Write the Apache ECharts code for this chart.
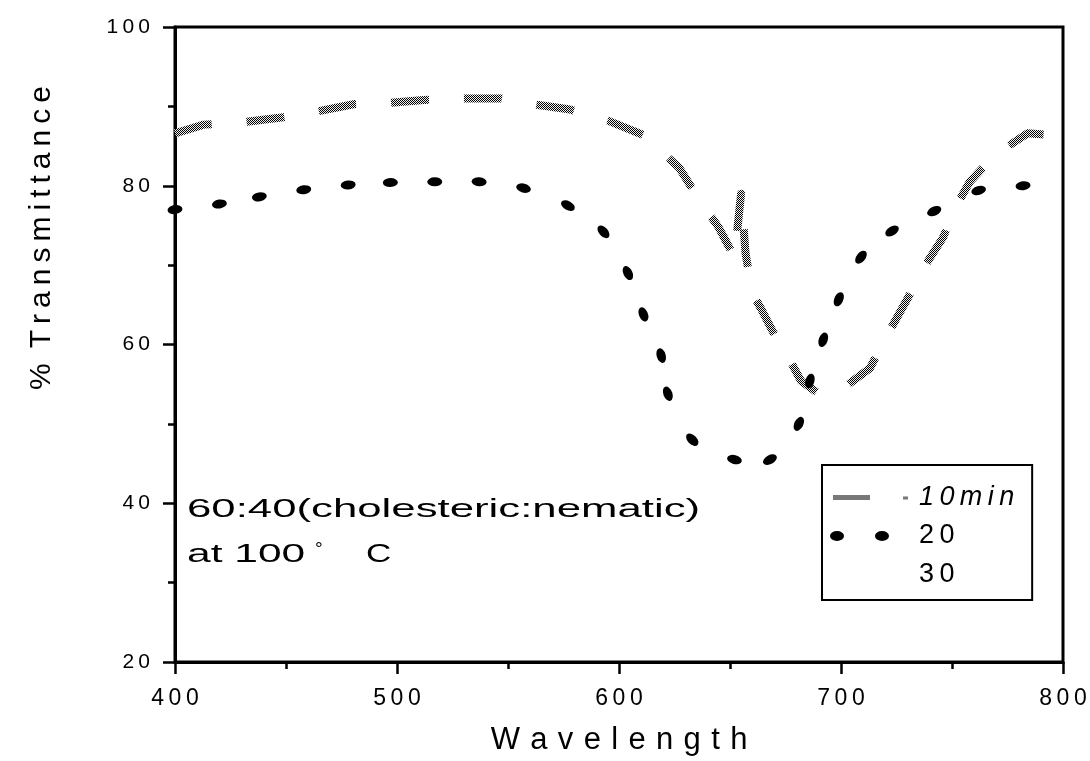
<!DOCTYPE html>
<html>
<head>
<meta charset="utf-8">
<title>% Transmittance vs Wavelength</title>
<script src="https://cdn.jsdelivr.net/npm/echarts@6/dist/echarts.min.js"></script>
<style>
  html, body { margin: 0; padding: 0; background: #fff; }
  #chart { width: 1090px; height: 761px; }
</style>
</head>
<body>
<div id="chart"></div>
<script>
// 10 min curve: wavelength (nm) / % transmittance
const wl10 = [400, 413, 430, 448, 463, 481, 495, 512, 530, 547, 563, 578, 595, 611, 627, 636, 645, 652, 655, 657, 660,
  664, 671, 677, 682, 690, 701, 713, 720, 730, 738, 746, 752, 758, 764, 770, 784, 794, 800];
const tr10 = [86.6, 87.7, 88.0, 88.6, 89.3, 90.3, 90.4, 90.8, 91.0, 91.0, 90.2, 89.6, 88.2, 86.4, 82.3, 78.3, 74.7, 71.0, 79.0, 71.5, 66.5,
  64.5, 60.7, 58.0, 55.4, 53.8, 54.5, 57.0, 60.8, 65.8, 70.0, 73.5, 77.5, 80.5, 82.3, 84.0, 86.6, 86.4, 88.5];

// 20 min curve
const wl20 = [400, 420, 438, 458, 478, 497, 517, 537, 557, 577, 593, 604, 611, 619, 622, 633, 652, 668, 681, 686, 692, 699, 709, 723, 742, 762, 782];
const tr20 = [77.0, 77.7, 78.6, 79.5, 80.1, 80.4, 80.5, 80.5, 79.7, 77.5, 74.2, 69.0, 63.8, 58.6, 53.8, 48.0, 45.5, 45.5, 50.0, 55.4, 60.6, 65.7, 71.0, 74.3, 76.8, 79.4, 80.0];

// 30 min: nothing visible in the scan
const wl30 = [];
const tr30 = [];

const seriesNames = ['10min', '20', '30'];
const xRange = [400, 800];
const yRange = [20, 100];

const FONT = '"Liberation Sans", Arial, Helvetica, sans-serif';
function spread(s, gap) {
  return String(s).split('').join(gap || '\u2009');
}

// halftone look of the grey curve
const tex = document.createElement('canvas');
tex.width = 2;
tex.height = 2;
const tctx = tex.getContext('2d');
tctx.fillStyle = '#f0f0f0';
tctx.fillRect(0, 0, 2, 2);
tctx.fillStyle = '#000';
tctx.fillRect(0, 0, 1, 1);
tctx.fillRect(1, 1, 1, 1);
const greyTex = { image: tex, repeat: 'repeat' };

const dotPath = 'path://M0,4.5A7.5,4.5,0,1,0,15,4.5A7.5,4.5,0,1,0,0,4.5Z';
const icon10 = 'path://M0,0M84,14M3,4.5L40,4.5L40,9.5L3,9.5Z M73,6L78,6L78,9L73,9Z';
const icon20 = 'path://M0,0M84,14M0,7A7,5,0,1,0,14,7A7,5,0,1,0,0,7Z M45,7A7,5,0,1,0,59,7A7,5,0,1,0,45,7Z';

const tickStyle = { color: '#000', width: 2.5 };

const option = {
  animation: false,
  backgroundColor: '#fff',
  grid: {
    left: 175, right: 27, top: 27, bottom: 97,
    containLabel: false,
    show: true,
    borderColor: '#000',
    borderWidth: 3
  },
  xAxis: {
    type: 'value',
    min: xRange[0],
    max: xRange[1],
    interval: 100,
    axisLine: { show: true, lineStyle: { color: '#000', width: 3 } },
    axisTick: { show: true, length: 12, lineStyle: tickStyle },
    minorTick: { show: true, splitNumber: 2, length: 7, lineStyle: tickStyle },
    splitLine: { show: false },
    axisLabel: {
      margin: 25,
      fontSize: 23,
      fontFamily: FONT,
      color: '#000',
      formatter: v => spread(v)
    },
    name: spread('Wavelength', '\u2004'),
    nameLocation: 'middle',
    nameGap: 63,
    nameTextStyle: { fontSize: 31, fontFamily: FONT, color: '#000' }
  },
  yAxis: {
    type: 'value',
    min: yRange[0],
    max: yRange[1],
    interval: 20,
    axisLine: { show: true, lineStyle: { color: '#000', width: 3 } },
    axisTick: { show: true, length: 12, lineStyle: tickStyle },
    minorTick: { show: true, splitNumber: 2, length: 7, lineStyle: tickStyle },
    splitLine: { show: false },
    axisLabel: {
      margin: 25,
      fontSize: 21,
      fontFamily: FONT,
      color: '#000',
      formatter: v => spread(v)
    }
  },
  legend: {
    orient: 'vertical',
    left: 822,
    top: 465,
    padding: [19, 18, 12, 8],
    itemWidth: 84,
    itemHeight: 14,
    itemGap: 11.5,
    borderColor: '#000',
    borderWidth: 2,
    selectedMode: false,
    textStyle: {
      fontFamily: FONT,
      fontSize: 27,
      lineHeight: 27,
      color: '#000',
      rich: { i: { fontFamily: FONT, fontSize: 27, fontStyle: 'italic', color: '#000' } }
    },
    formatter: name => name === '10min' ? '{i|' + spread(name) + '}' : spread(name),
    data: [
      { name: seriesNames[0], icon: icon10, itemStyle: { color: greyTex } },
      { name: seriesNames[1], icon: icon20, itemStyle: { color: '#000' } },
      { name: seriesNames[2], icon: 'none' }
    ]
  },
  graphic: [
    {
      type: 'text', x: 42, y: 238, rotation: Math.PI / 2,
      style: {
        text: '%\u2002' + spread('Transmittance'),
        font: '30px ' + FONT, fill: '#000',
        align: 'center', textAlign: 'center', verticalAlign: 'middle', textVerticalAlign: 'middle'
      }
    },
    {
      type: 'text', x: 187, y: 510, scaleX: 1.75,
      style: {
        text: '60:40(cholesteric:nematic)', font: '25px ' + FONT, fill: '#000',
        verticalAlign: 'middle', textVerticalAlign: 'middle'
      }
    },
    {
      type: 'text', x: 187, y: 555, scaleX: 1.7,
      style: { text: 'at 100', font: '25px ' + FONT, fill: '#000', verticalAlign: 'middle', textVerticalAlign: 'middle' }
    },
    {
      type: 'text', x: 315, y: 550, scaleX: 1.2,
      style: { text: '°', font: '16px ' + FONT, fill: '#000', verticalAlign: 'middle', textVerticalAlign: 'middle' }
    },
    {
      type: 'text', x: 366, y: 555, scaleX: 1.4,
      style: { text: 'C', font: '25px ' + FONT, fill: '#000', verticalAlign: 'middle', textVerticalAlign: 'middle' }
    }
  ],
  series: [
    {
      name: seriesNames[0],
      type: 'line',
      data: wl10.map((x, i) => [x, tr10[i]]),
      symbol: 'none',
      showSymbol: false,
      silent: true,
      emphasis: { disabled: true },
      itemStyle: { color: '#808080' },
      lineStyle: { color: greyTex, width: 8, type: [38, 35], cap: 'butt', join: 'round' },
      z: 2
    },
    {
      name: seriesNames[1],
      type: 'scatter',
      data: wl20.map((x, i) => [x, tr20[i]]),
      symbol: dotPath,
      symbolSize: [15, 9],
      silent: true,
      emphasis: { disabled: true },
      itemStyle: { color: '#000', opacity: 1 },
      z: 3
    },
    {
      name: seriesNames[2],
      type: 'line',
      data: wl30.map((x, i) => [x, tr30[i]]),
      symbol: 'none',
      itemStyle: { color: '#000' },
      lineStyle: { color: '#000', width: 1, type: 'dotted' }
    }
  ]
};

const chart = echarts.init(document.getElementById('chart'));
chart.setOption(option);

// orient each dot along the curve, using the chart's own scales
const px = wl20.map((x, i) => chart.convertToPixel({ gridIndex: 0 }, [x, tr20[i]]));
const dots = px.map((p, i) => {
  const a = px[Math.max(i - 1, 0)];
  const b = px[Math.min(i + 1, px.length - 1)];
  return {
    value: [wl20[i], tr20[i]],
    symbolRotate: Math.atan2(a[1] - b[1], b[0] - a[0]) * 180 / Math.PI
  };
});
chart.setOption({ series: [{}, { data: dots }, {}] });
</script>
</body>
</html>
